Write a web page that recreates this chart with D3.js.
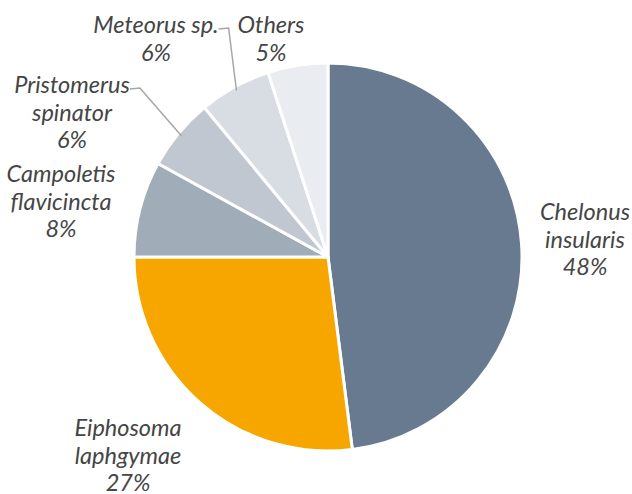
<!DOCTYPE html>
<html>
<head>
<meta charset="utf-8">
<script src="https://cdn.jsdelivr.net/npm/d3@7/dist/d3.min.js"></script>
<style>
  html, body { margin: 0; padding: 0; background: #ffffff; }
  svg { display: block; }
  .lbl { font-family: Lato, "Open Sans", sans-serif; font-style: italic; font-size: 23.5px; fill: #454545; }
</style>
</head>
<body>
<svg id="chart" width="632" height="494"></svg>
<script>
// Parasitoid species composition (share of specimens, %)
const species = [
  ["Chelonus", "insularis"],
  ["Eiphosoma", "laphgymae"],
  ["Campoletis", "flavicincta"],
  ["Pristomerus", "spinator"],
  ["Meteorus sp."],
  ["Others"]
];
const shares = [48, 27, 8, 6, 6, 5];
const colors = ["#687a8f", "#f7a600", "#a1acb9", "#c0c7d0", "#d8dde3", "#e9ecf0"];

// label anchor (centre x, first baseline y) and whether a leader line is drawn
const labelPos = [
  [585, 220, false],
  [128, 436, false],
  [61, 182, false],
  [72, 93, true],
  [156, 33, true],
  [271, 33, false]
];

const W = 632, H = 494;
const cx = 328, cy = 257, R = 194;
const lineH = 27.5;

const svg = d3.select("#chart");
const g = svg.append("g").attr("transform", `translate(${cx},${cy})`);

const data = shares.map((v, i) => ({ name: species[i], value: v, color: colors[i], pos: labelPos[i] }));

const pie = d3.pie().sort(null).value(d => d.value);
const arc = d3.arc().innerRadius(0).outerRadius(R);
const arcs = pie(data);

g.selectAll("path.slice")
  .data(arcs)
  .join("path")
  .attr("class", "slice")
  .attr("d", arc)
  .attr("fill", d => d.data.color)
  .attr("stroke", "#ffffff")
  .attr("stroke-width", 3)
  .attr("stroke-linejoin", "round");

// labels
arcs.forEach(a => {
  const [lx, ly] = a.data.pos;
  const lines = a.data.name.concat([a.data.value + "%"]);
  const t = svg.append("text").attr("class", "lbl").attr("text-anchor", "middle");
  lines.forEach((s, k) => {
    t.append("tspan").attr("x", lx).attr("y", ly + k * lineH).text(s);
  });
  if (a.data.pos[2]) {
    // leader from end of first label line to the slice edge
    const first = t.select("tspan").node();
    const bb = first.getBBox();
    const mid = (a.startAngle + a.endAngle) / 2;
    const px = cx + (R - 4) * Math.sin(mid);
    const py = cy - (R - 4) * Math.cos(mid);
    const sx = bb.x + bb.width;
    const sy = ly - 4;
    svg.append("polyline")
      .attr("points", [[sx, sy], [sx + 10, sy - 1], [px, py]].map(p => p.join(",")).join(" "))
      .attr("fill", "none")
      .attr("stroke", "#a6a6a6")
      .attr("stroke-width", 1.5);
  }
});
</script>
</body>
</html>
